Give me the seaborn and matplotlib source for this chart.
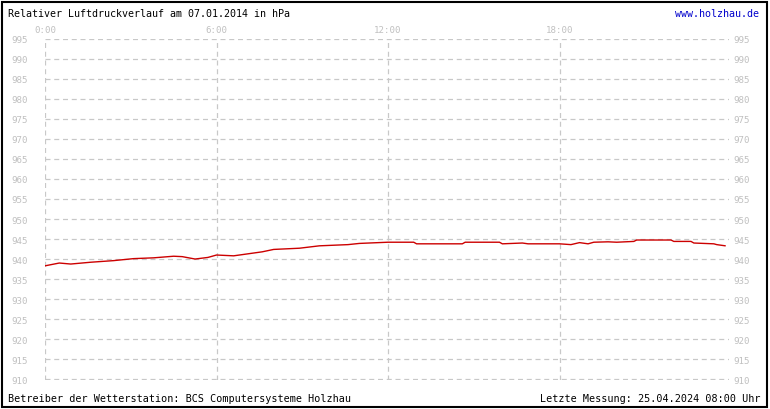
import numpy as np
import pandas as pd
import seaborn as sns
from matplotlib import pyplot as plt
from matplotlib.patches import Rectangle

# Luftdruck in hPa, Stunden seit 0:00
hours = [0.0, 0.5, 0.9, 1.6, 2.4, 3.1, 3.8, 4.5, 4.8, 5.25, 5.7, 6.0, 6.6, 7.1,
         7.6, 8.0, 8.9, 9.6, 10.6, 11.0, 12.0, 12.9, 13.0, 14.6, 14.7, 15.9,
         16.0, 16.7, 16.9, 18.0, 18.4, 18.7, 19.0, 19.2, 19.7, 20.0, 20.6,
         20.7, 21.9, 22.0, 22.6, 22.7, 23.4, 23.5, 23.8]
pressure = [938.3, 939.0, 938.75, 939.2, 939.6, 940.1, 940.3, 940.7, 940.6,
            940.0, 940.4, 941.0, 940.8, 941.3, 941.8, 942.4, 942.7, 943.3,
            943.6, 943.9, 944.2, 944.2, 943.8, 943.8, 944.2, 944.2, 943.8,
            944.0, 943.8, 943.8, 943.6, 944.1, 943.8, 944.2, 944.3, 944.2,
            944.4, 944.75, 944.75, 944.4, 944.4, 944.0, 943.8, 943.6, 943.3]

y_ticks = list(range(910, 1000, 5))
x_ticks = [0, 6, 12, 18]
x_labels = ['0:00', '6:00', '12:00', '18:00']

title = 'Relativer Luftdruckverlauf am 07.01.2014 in hPa'
site = 'www.holzhau.de'
footer_left = 'Betreiber der Wetterstation: BCS Computersysteme Holzhau'
footer_right = 'Letzte Messung: 25.04.2024 08:00 Uhr'

sns.set_style('white')
plt.rcParams['font.family'] = ['DejaVu Sans Mono', 'DejaVu Sans']

df = pd.DataFrame({'h': hours, 'p': pressure})

fig = plt.figure(figsize=(7.7, 4.1), dpi=100)
ax = fig.add_axes([45 / 770, 1 - 380.5 / 410, 684 / 770, 341 / 410])

sns.lineplot(data=df, x='h', y='p', color='#cc0000', linewidth=1.0, ax=ax)

ax.set_xlim(0, 23.93)
ax.set_ylim(909.9, 995.1)
ax.set_yticks(y_ticks)
ax.set_xticks(x_ticks)
ax.set_xticklabels(x_labels)
ax.set_xlabel('')
ax.set_ylabel('')

ax.grid(True, color='#c8c8c8', linestyle=(0, (4, 3)), linewidth=0.9)
for s in ax.spines.values():
    s.set_visible(False)

tick_style = dict(length=0, labelsize=6.6, labelcolor='#c0c0c0')
ax.tick_params(axis='y', labelleft=True, labelright=False, pad=12, **tick_style)
ax.tick_params(axis='x', labeltop=True, labelbottom=False, pad=3, **tick_style)

# rechte Skala mit kleinerem Abstand
right = ax.secondary_yaxis('right')
right.set_yticks(y_ticks)
right.tick_params(axis='y', pad=3, **tick_style)
right.spines['right'].set_visible(False)

fig.text(8 / 770, 1 - 14 / 410, title, fontsize=7.2, va='center', ha='left',
         color='black')
fig.text(759 / 770, 1 - 14 / 410, site, fontsize=7.2, va='center', ha='right',
         color='#0000cc')
fig.text(8 / 770, 1 - 399 / 410, footer_left, fontsize=7.3, va='center', ha='left',
         color='black')
fig.text(760 / 770, 1 - 399 / 410, footer_right, fontsize=7.3, va='center',
         ha='right', color='black')

fig.patches.append(Rectangle((2 / 770, 2 / 410), 765 / 770, 405 / 410,
                             transform=fig.transFigure, fill=False,
                             edgecolor='black', linewidth=1.5))

fig.savefig('out.png', dpi=100)
